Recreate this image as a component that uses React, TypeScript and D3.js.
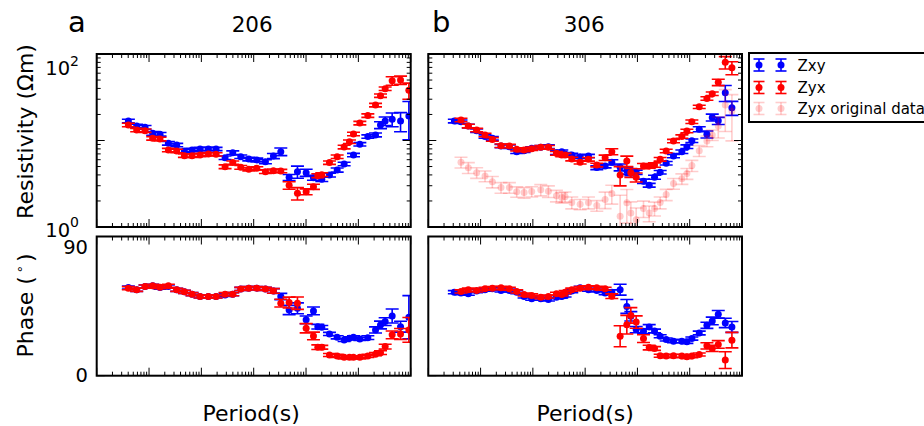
import React from 'react';
import * as d3 from 'd3';

// ---------- Site 206 ----------
const periods206 = [0.00403, 0.00581, 0.00839, 0.01175, 0.01622, 0.02344, 0.03381, 0.04742, 0.06637, 0.09441, 0.1361, 0.1910, 0.2838, 0.3981, 0.5662, 0.8054, 1.146, 1.675, 2.382, 3.296, 4.753, 6.855, 10.05, 13.87, 16.79, 20.0, 28.05, 39.36, 53.46, 67.61, 80.72, 106.7, 151.7, 212.8, 264.9, 325.1, 442.6, 639.7, 922.6];
const rhoZxy206 = [16.8, 14.7, 14.2, 12.1, 11.8, 9.29, 8.87, 7.57, 7.76, 7.98, 7.98, 7.98, 6.32, 7.23, 6.50, 6.11, 5.96, 5.69, 6.62, 7.43, 3.75, 4.36, 4.25, 3.72, null, 3.56, 3.99, 4.56, 5.35, null, 6.79, 9.04, 11.1, 11.6, 15.1, 16.8, 17.6, 16.8, 19.2];
const rhoErrZxy206 = [0.8, 0.7, 0.7, 0.6, 0.55, 0.45, 0.4, 0.35, 0.35, 0.35, 0.35, 0.35, 0.3, 0.35, 0.3, 0.3, 0.3, 0.3, 0.45, 0.75, 0.3, 0.7, 0.4, 0.25, 0, 0.2, 0.2, 0.25, 0.25, 0, 0.3, 0.4, 0.5, 0.6, 1.4, 1.9, 3.2, 4.2, 9];
const rhoZyx206 = [15.1, 13.2, 13.0, 10.6, 10.4, 7.76, 7.57, 6.68, 6.68, 6.79, 6.98, 6.92, 4.98, 5.55, 4.90, 4.65, 4.78, 4.36, 4.48, 4.44, 3.03, 2.45, 2.56, 2.92, 3.92, 4.03, 5.55, 6.50, 8.41, 9.70, 11.9, 15.9, 19.4, 25.7, 33.0, 39.7, 49.1, 50.0, 38.0];
const rhoErrZyx206 = [0.7, 0.6, 0.6, 0.5, 0.5, 0.35, 0.35, 0.3, 0.3, 0.3, 0.3, 0.3, 0.25, 0.25, 0.25, 0.2, 0.2, 0.2, 0.2, 0.2, 0.3, 0.4, 0.2, 0.2, 0.2, 0.2, 0.25, 0.3, 0.4, 0.45, 0.55, 0.75, 0.9, 1.2, 1.5, 1.8, 5.5, 5.5, 8];
const phaseZxy206 = [57.0, 55.5, 57.6, 58.1, 57.0, 57.6, 55.5, 54.2, 52.7, 51.2, 51.2, 51.2, 52.2, 52.7, 56.1, 56.6, 56.6, 56.1, 54.8, 51.2, 42.5, 43.6, 36.1, 41.9, 31.7, 31.3, 27.0, 24.8, 23.1, 24.2, 24.8, 23.8, 24.6, 29.6, 32.8, 35.0, 38.6, 31.7, 37.8];
const phaseErrZxy206 = [1, 1, 1, 1, 1, 1, 1, 1, 1, 1, 1, 1, 1, 1, 1, 1, 1, 1, 1.5, 2, 3, 3.5, 2.5, 2.5, 1.5, 1.2, 1, 1, 1, 1, 1, 1, 1.2, 2, 2.5, 2.5, 4.5, 3.5, 14];
const phaseZyx206 = [56.6, 55.5, 57.6, 58.1, 57.2, 58.1, 55.5, 54.2, 52.7, 51.2, 51.2, 51.2, 52.7, 52.7, 56.1, 56.6, 56.6, 56.1, 54.8, 46.9, 47.3, 46.9, 30.7, 25.7, 18.4, 18.4, 13.4, 12.8, 11.9, 11.9, 11.9, 11.9, 12.8, 13.9, 14.9, 18.8, 26.4, 27.0, 29.6];
const phaseErrZyx206 = [1, 1, 1, 1, 1, 1, 1, 1, 1, 1, 1, 1, 1, 1, 1, 1, 1, 1, 1.5, 2.5, 3.5, 4, 3, 2.5, 1.5, 1.2, 1, 1, 1, 1, 1, 1, 1, 1, 1.2, 1.5, 2.5, 3.5, 8];

// ---------- Site 306 ----------
const periods306 = [0.00315, 0.00422, 0.00583, 0.00841, 0.01216, 0.01679, 0.02460, 0.03556, 0.04909, 0.06792, 0.09506, 0.1416, 0.1982, 0.2825, 0.3573, 0.4130, 0.5546, 0.8017, 1.156, 1.671, 2.410, 3.236, 4.667, 6.266, 7.482, 9.462, 13.06, 16.79, 21.23, 27.23, 35.48, 48.98, 70.79, 88.31, 109.9, 152.1, 213.3, 269.8, 351.6, 478.6, 641.2];
const rhoZxy306 = [16.8, 16.5, 14.7, 13.0, 11.1, 10.6, 8.63, 8.49, 7.43, 7.62, 8.13, 8.34, 8.49, 7.24, 7.43, 6.98, 6.79, 6.50, 6.62, 4.86, 5.07, 5.60, 4.90, 4.49, 4.22, 4.30, 3.38, 3.04, 3.76, 4.30, 5.46, 6.62, 7.43, 8.49, 9.95, 13.5, 11.8, 18.5, 16.9, 35.7, 23.9];
const rhoErrZxy306 = [0.8, 0.75, 0.7, 0.6, 0.5, 0.5, 0.4, 0.4, 0.35, 0.35, 0.35, 0.4, 0.4, 0.35, 0.35, 0.3, 0.3, 0.3, 0.3, 0.25, 0.25, 0.4, 0.45, 0.4, 0.3, 0.25, 0.2, 0.15, 0.2, 0.2, 0.25, 0.3, 0.35, 0.4, 0.45, 0.9, 1.1, 1.7, 1.6, 7.5, 4.4];
const rhoZyx306 = [null, 17.3, 14.7, 13.2, 11.6, 10.3, 8.71, 8.63, 7.91, 7.76, 8.04, 8.34, 8.34, 7.11, 6.79, 6.79, 6.11, 5.60, 6.07, 5.21, 6.32, 7.43, 3.99, 5.79, 4.25, 3.76, 5.07, 5.07, 5.21, 6.07, 7.57, 9.86, 11.1, 12.9, 16.5, 24.5, 30.6, 34.7, 47.1, 80.2, 69.5];
const rhoErrZyx306 = [0, 0.8, 0.7, 0.6, 0.55, 0.5, 0.4, 0.4, 0.35, 0.35, 0.35, 0.4, 0.4, 0.35, 0.3, 0.3, 0.3, 0.25, 0.3, 0.25, 0.45, 0.6, 1.0, 0.8, 0.5, 0.45, 0.35, 0.3, 0.3, 0.3, 0.35, 0.45, 0.5, 0.6, 0.75, 1.1, 1.4, 1.6, 4, 13, 12];
const rhoZyxOriginal306 = [null, 5.60, 4.85, 4.25, 3.89, 3.33, 2.86, 2.86, 2.56, 2.50, 2.57, 2.69, 2.59, 2.30, 2.19, 2.24, 1.92, 1.83, 1.92, 1.77, 2.08, 2.44, 1.33, 1.91, 1.45, 1.21, 1.64, 1.45, 1.64, 1.92, 2.37, 3.18, 3.61, 4.15, 5.14, 7.62, 9.86, 11.6, 14.7, 25.7, 21.9];
const phaseZxy306 = [54.0, 53.4, 53.0, 54.7, 55.6, 56.2, 55.1, 55.1, 54.0, 51.2, 49.8, 49.8, 49.3, 50.8, 51.2, 51.9, 54.7, 56.8, 55.6, 55.1, 53.4, 54.0, 55.6, 44.8, 38.4, 29.8, 28.7, 31.5, 28.9, 25.5, 23.4, 22.3, 22.3, 21.9, 24.0, 27.6, 32.6, 35.4, 39.7, 34.1, 31.5];
const phaseErrZxy306 = [1, 1, 1, 1, 1, 1, 1, 1, 1, 1, 1, 1, 1, 1, 1, 1, 1, 1, 1, 1, 1, 1.5, 3.5, 4.5, 3, 2, 1.5, 1.5, 1.2, 1, 1, 1, 1, 1, 1, 1.2, 2, 2.5, 2.5, 3, 3.5];
const phaseZyx306 = [null, 54.5, 55.6, 55.1, 56.2, 56.6, 56.8, 56.2, 54.5, 52.5, 51.9, 50.8, 51.2, 53.0, 52.5, 54.0, 55.6, 56.6, 57.2, 56.8, 56.2, 51.4, 25.5, 33.0, 39.0, 34.7, 24.0, 18.2, 17.6, 12.9, 12.7, 12.9, 12.7, 12.2, 12.7, 13.7, 19.3, 17.6, 20.2, 10.1, 23.0];
const phaseErrZyx306 = [0, 1, 1, 1, 1, 1, 1, 1, 1, 1, 1, 1, 1, 1, 1, 1, 1, 1, 1, 1, 1, 1.5, 6.8, 6, 5, 4, 2.5, 1.5, 1.2, 1, 1, 1, 1, 1, 1, 1, 2, 2, 2.5, 5.4, 5];

// ---------- Axes / labels ----------
const periodDomain = [1e-3, 1e3];
const periodMajorTicks = [1e-3, 1e-2, 1e-1, 1, 10, 100, 1000];
const rhoDomain = [1, 100];
const rhoMajorTicks = [1, 10, 100];
const phaseDomain = [0, 90];
const phaseTicks = [0, 90];
const panelLetters = ['a', 'b'];
const siteNames = ['206', '306'];
const legendLabels = ['Zxy', 'Zyx', 'Zyx original data'];

const FONT = '"DejaVu Sans", "Liberation Sans", sans-serif';
const BLUE = '#0000ff';
const RED = '#ff0000';

const xLeft = d3.scaleLog().domain(periodDomain).range([96.7, 410.7]);
const xRight = d3.scaleLog().domain(periodDomain).range([428.3, 742]);
const yRho = d3.scaleLog().domain(rhoDomain).range([227, 54]);
const yPhase = d3.scaleLinear().domain(phaseDomain).range([375.7, 236.5]);

type Series = {
  x: number[];
  y: (number | null)[];
  err: number[];
  color: string;
  opacity: number;
};

function SeriesMarks({ s, xs, ys, log }: { s: Series; xs: any; ys: any; log: boolean }) {
  const cap = 6.5;
  const bars: any[] = [];
  const dots: any[] = [];
  s.x.forEach((p, i) => {
    const v = s.y[i];
    if (v == null) return;
    const e = s.err[i] || 0;
    const cx = xs(p);
    const lo = log ? Math.max(v - e, 0.05) : v - e;
    const y1 = ys(lo);
    const y2 = ys(v + e);
    bars.push(
      <g key={'b' + i}>
        <line x1={cx} x2={cx} y1={y1} y2={y2} />
        <line x1={cx - cap} x2={cx + cap} y1={y1} y2={y1} />
        <line x1={cx - cap} x2={cx + cap} y1={y2} y2={y2} />
      </g>
    );
    dots.push(<circle key={'d' + i} cx={cx} cy={ys(v)} r={3.5} />);
  });
  return (
    <g>
      <g stroke={s.color} strokeWidth={1.6} strokeOpacity={s.opacity}>{bars}</g>
      <g fill={s.color} fillOpacity={s.opacity}>{dots}</g>
    </g>
  );
}

function Panel({ id, xs, ys, log, series }: { id: string; xs: any; ys: any; log: boolean; series: Series[] }) {
  const [x0, x1] = xs.range();
  const [yb, yt] = ys.range();
  const ticks: any[] = [];
  const major = 8;
  const minor = 4;
  periodMajorTicks.forEach((t, k) => {
    const px = xs(t);
    ticks.push(<line key={'xm' + k} x1={px} x2={px} y1={yb} y2={yb - major} />);
    ticks.push(<line key={'xmt' + k} x1={px} x2={px} y1={yt} y2={yt + major} />);
    if (k < periodMajorTicks.length - 1) {
      for (let m = 2; m <= 9; m++) {
        const pm = xs(t * m);
        ticks.push(<line key={`xn${k}-${m}`} x1={pm} x2={pm} y1={yb} y2={yb - minor} />);
        ticks.push(<line key={`xnt${k}-${m}`} x1={pm} x2={pm} y1={yt} y2={yt + minor} />);
      }
    }
  });
  if (log) {
    rhoMajorTicks.forEach((t, k) => {
      const py = ys(t);
      ticks.push(<line key={'ym' + k} x1={x0} x2={x0 + major} y1={py} y2={py} />);
      ticks.push(<line key={'ymr' + k} x1={x1} x2={x1 - major} y1={py} y2={py} />);
      if (k < rhoMajorTicks.length - 1) {
        for (let m = 2; m <= 9; m++) {
          const pm = ys(t * m);
          ticks.push(<line key={`yn${k}-${m}`} x1={x0} x2={x0 + minor} y1={pm} y2={pm} />);
          ticks.push(<line key={`ynr${k}-${m}`} x1={x1} x2={x1 - minor} y1={pm} y2={pm} />);
        }
      }
    });
  } else {
    phaseTicks.forEach((t, k) => {
      const py = ys(t);
      ticks.push(<line key={'yp' + k} x1={x0} x2={x0 + major} y1={py} y2={py} />);
      ticks.push(<line key={'ypr' + k} x1={x1} x2={x1 - major} y1={py} y2={py} />);
    });
  }
  return (
    <g>
      <defs>
        <clipPath id={id}>
          <rect x={x0} y={yt} width={x1 - x0} height={yb - yt} />
        </clipPath>
      </defs>
      <g clipPath={`url(#${id})`}>
        {series.map((s, i) => (
          <SeriesMarks key={i} s={s} xs={xs} ys={ys} log={log} />
        ))}
      </g>
      <g stroke="#000" strokeWidth={1}>{ticks}</g>
      <rect x={x0} y={yt} width={x1 - x0} height={yb - yt} fill="none" stroke="#000" strokeWidth={2} />
    </g>
  );
}

function LegendEntry({ x, y, color, opacity }: { x: number; y: number; color: string; opacity: number }) {
  const cap = 5.5;
  const h = 6;
  return (
    <g>
      <g stroke={color} strokeWidth={1.6} strokeOpacity={opacity}>
        <line x1={x} x2={x} y1={y - h} y2={y + h} />
        <line x1={x - cap} x2={x + cap} y1={y - h} y2={y - h} />
        <line x1={x - cap} x2={x + cap} y1={y + h} y2={y + h} />
      </g>
      <circle cx={x} cy={y} r={3.5} fill={color} fillOpacity={opacity} />
    </g>
  );
}

export default function App() {
  const s206Rho: Series[] = [
    { x: periods206, y: rhoZxy206, err: rhoErrZxy206, color: BLUE, opacity: 1 },
    { x: periods206, y: rhoZyx206, err: rhoErrZyx206, color: RED, opacity: 1 },
  ];
  const s206Phase: Series[] = [
    { x: periods206, y: phaseZxy206, err: phaseErrZxy206, color: BLUE, opacity: 1 },
    { x: periods206, y: phaseZyx206, err: phaseErrZyx206, color: RED, opacity: 1 },
  ];
  const s306Rho: Series[] = [
    { x: periods306, y: rhoZxy306, err: rhoErrZxy306, color: BLUE, opacity: 1 },
    { x: periods306, y: rhoZyx306, err: rhoErrZyx306, color: RED, opacity: 1 },
    { x: periods306, y: rhoZyxOriginal306, err: rhoErrZyx306, color: RED, opacity: 0.2 },
  ];
  const s306Phase: Series[] = [
    { x: periods306, y: phaseZxy306, err: phaseErrZxy306, color: BLUE, opacity: 1 },
    { x: periods306, y: phaseZyx306, err: phaseErrZyx306, color: RED, opacity: 1 },
  ];
  const legendRows = [
    { label: legendLabels[0], color: BLUE, opacity: 1, y: 65 },
    { label: legendLabels[1], color: RED, opacity: 1, y: 87.5 },
    { label: legendLabels[2], color: RED, opacity: 0.2, y: 108.5 },
  ];
  const xCenters = [(xLeft.range()[0] + xLeft.range()[1]) / 2, (xRight.range()[0] + xRight.range()[1]) / 2];

  return (
    <svg
      width={924}
      height={426}
      style={{ position: 'absolute', left: 0, top: 0, background: '#fff' }}
      fontFamily={FONT}
    >
      <rect x={0} y={0} width={924} height={426} fill="#fff" />

      <Panel id="c1" xs={xLeft} ys={yRho} log={true} series={s206Rho} />
      <Panel id="c2" xs={xRight} ys={yRho} log={true} series={s306Rho} />
      <Panel id="c3" xs={xLeft} ys={yPhase} log={false} series={s206Phase} />
      <Panel id="c4" xs={xRight} ys={yPhase} log={false} series={s306Phase} />

      <text x={68} y={32} fontSize={29}>{panelLetters[0]}</text>
      <text x={432} y={32} fontSize={29}>{panelLetters[1]}</text>
      <text x={xCenters[0] - 1.5} y={32.3} fontSize={21.5} textAnchor="middle">{siteNames[0]}</text>
      <text x={xCenters[1] - 1} y={32.3} fontSize={21.5} textAnchor="middle">{siteNames[1]}</text>

      <text x={79} y={75} fontSize={19.5} textAnchor="end">
        10<tspan dy={-9} fontSize={14}>2</tspan>
      </text>
      <text x={79} y={236.7} fontSize={19.5} textAnchor="end">
        10<tspan dy={-10} fontSize={14}>0</tspan>
      </text>
      <text x={88} y={254} fontSize={19.5} textAnchor="end">{phaseTicks[1]}</text>
      <text x={88} y={381.5} fontSize={19.5} textAnchor="end">{phaseTicks[0]}</text>

      <text transform="translate(33,131.5) rotate(-90)" fontSize={22} textAnchor="middle">
        Resistivity (Ωm)
      </text>
      <text transform="translate(33,305.5) rotate(-90)" fontSize={22} textAnchor="middle">
        Phase (<tspan dx={3} dy={-9} fontSize={13}>∘</tspan><tspan dx={3} dy={9}>)</tspan>
      </text>
      <text x={xCenters[0] - 2.5} y={421} fontSize={22} textAnchor="middle">Period(s)</text>
      <text x={xCenters[1]} y={421} fontSize={22} textAnchor="middle">Period(s)</text>

      <rect x={749} y={53} width={200} height={69} fill="#fff" stroke="#000" strokeWidth={2} />
      {legendRows.map((r, i) => (
        <g key={i}>
          <LegendEntry x={759} y={r.y} color={r.color} opacity={r.opacity} />
          <LegendEntry x={781} y={r.y} color={r.color} opacity={r.opacity} />
          <text x={797.5} y={r.y + 5.5} fontSize={15}>{r.label}</text>
        </g>
      ))}
    </svg>
  );
}
